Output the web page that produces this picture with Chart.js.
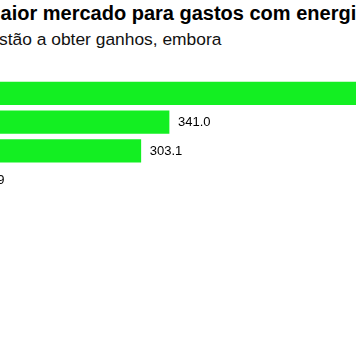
<!DOCTYPE html>
<html>
<head>
<meta charset="utf-8">
<script src="https://cdn.jsdelivr.net/npm/chart.js@4"></script>
<style>
  html, body { margin:0; padding:0; background:#fff; width:356px; height:358px; overflow:hidden; position:relative; }
  #title { position:absolute; top:1px; white-space:nowrap; font:bold 20px "Liberation Sans", Arial, sans-serif; color:#000; line-height:24px; }
  #subtitle { position:absolute; top:28px; white-space:nowrap; font:17.4px "Liberation Sans", Arial, sans-serif; color:#111; line-height:22px; }
  #wrap { position:absolute; left:-85px; top:79px; width:596px; height:115px; }
</style>
</head>
<body>
<div id="title"></div>
<div id="subtitle"></div>
<div id="wrap"><canvas id="c"></canvas></div>
<script>
const titleText = "China é o maior mercado para gastos com energia limpa";
const titleHidden = "China é o m";
const subtitleText = "Os EUA e a UE estão a obter ganhos, embora";
const subtitleHidden = "Os EUA e a UE e";
const categories = ["China", "UE", "EUA", "Reino Unido"];
const values = [676.0, 341.0, 303.1, 73.9];
const labels = ["676.0", "341.0", "303.1", "73.9"];

function measure(text, font) {
  const ctx = document.createElement('canvas').getContext('2d');
  ctx.font = font;
  return ctx.measureText(text).width;
}
const t = document.getElementById('title');
t.textContent = titleText;
t.style.left = (-measure(titleHidden, 'bold 20px "Liberation Sans"') + 0.5) + 'px';
const s = document.getElementById('subtitle');
s.textContent = subtitleText;
s.style.left = (-measure(subtitleHidden, '17.4px "Liberation Sans"')) + 'px';

const valueLabels = {
  id: 'valueLabels',
  afterDatasetsDraw(chart) {
    const ctx = chart.ctx;
    const meta = chart.getDatasetMeta(0);
    ctx.save();
    ctx.font = '13px "Liberation Sans", Arial, sans-serif';
    ctx.fillStyle = '#000';
    ctx.textBaseline = 'middle';
    ctx.textAlign = 'left';
    meta.data.forEach((bar, i) => {
      ctx.fillText(labels[i], bar.x + 9, bar.y + 0.5);
    });
    ctx.restore();
  }
};

new Chart(document.getElementById('c'), {
  type: 'bar',
  data: {
    labels: categories,
    datasets: [{
      data: values,
      backgroundColor: '#13ef22',
      borderWidth: 0,
      barThickness: 22.5
    }]
  },
  options: {
    indexAxis: 'y',
    responsive: true,
    maintainAspectRatio: false,
    animation: false,
    layout: { padding: 0 },
    plugins: { legend: { display: false }, tooltip: { enabled: false }, title: { display: false } },
    scales: {
      x: { display: false, min: 0, max: 800 },
      y: { display: false }
    }
  },
  plugins: [valueLabels]
});
</script>
</body>
</html>
